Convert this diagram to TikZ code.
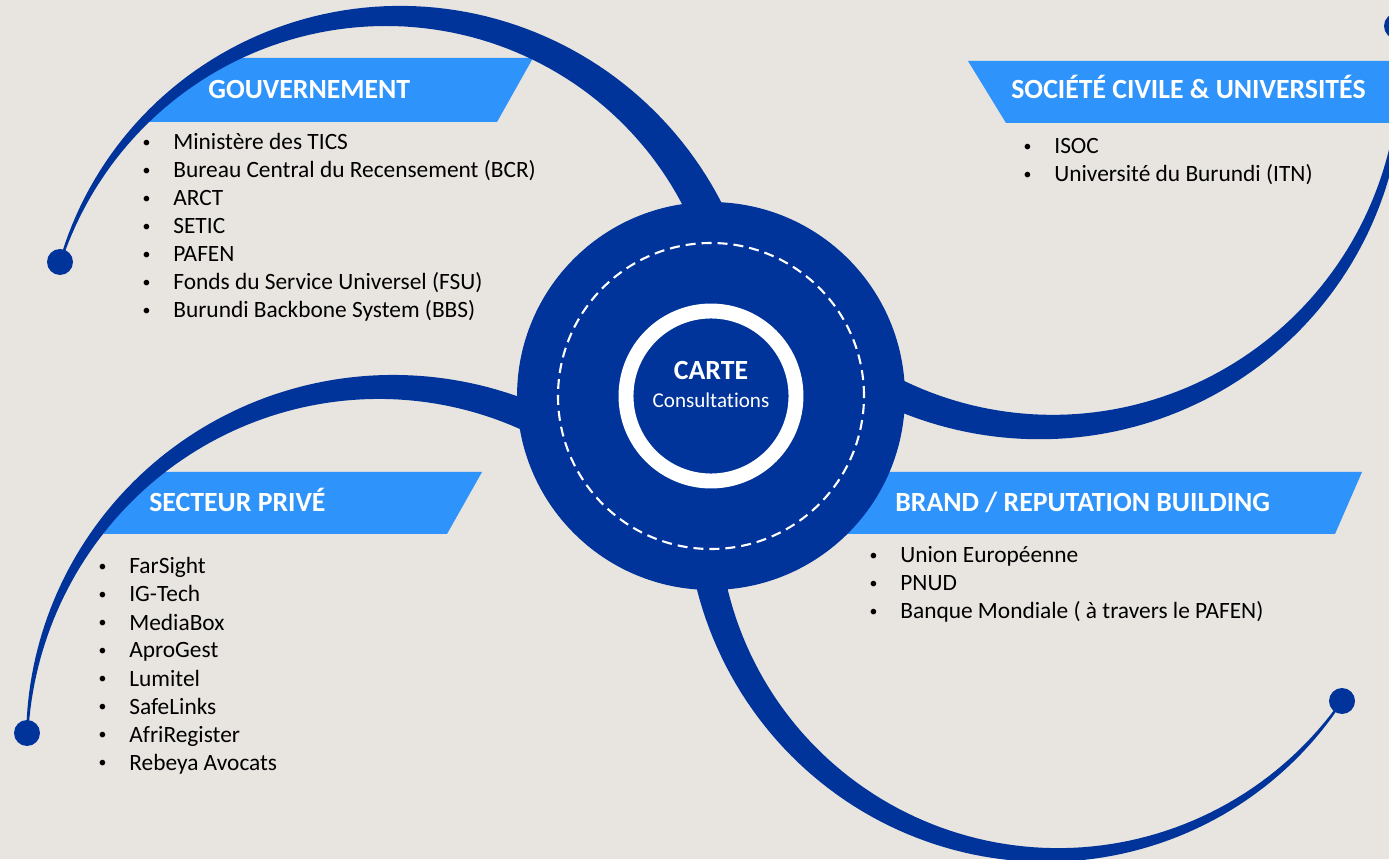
\documentclass[tikz,border=0pt]{standalone}
\usepackage{fontspec}
\setmainfont{Carlito}[RawFeature={-liga}]
\definecolor{navy}{HTML}{00349A}
\definecolor{bandblue}{HTML}{2E93FA}
\definecolor{paper}{HTML}{E8E4E0}
\newcommand{\taperarc}[7]{%
	\fill[navy] plot[domain=#4:#5, samples=90, variable=\t]
		({#1+(#3+0.5*(#6+(#7-#6)*(\t-(#4))/((#5)-(#4))))*cos(\t)},
		 {#2+(#3+0.5*(#6+(#7-#6)*(\t-(#4))/((#5)-(#4))))*sin(\t)})
		-- plot[domain=#5:#4, samples=90, variable=\t]
		({#1+(#3-0.5*(#6+(#7-#6)*(\t-(#4))/((#5)-(#4))))*cos(\t)},
		 {#2+(#3-0.5*(#6+(#7-#6)*(\t-(#4))/((#5)-(#4))))*sin(\t)}) -- cycle;}
\newcommand{\bul}{\llap{\raisebox{1.3pt}{\fontsize{9}{9}\selectfont\textbullet}\hspace{13pt}}}

\begin{document}
\begin{tikzpicture}[x=0.02cm, y=0.02cm,
	dot/.style={circle, fill=navy, inner sep=0pt, minimum size=0.52cm},
	band/.style={fill=bandblue},
	bantext/.style={anchor=base west, inner sep=0pt, text=white, font=\fontsize{15.8}{19}\selectfont\bfseries},
	item/.style={anchor=base west, inner sep=0pt, font=\fontsize{13.3}{16}\selectfont}]
		\fill[paper] (0,0) rectangle (1389,859);
		\useasboundingbox (0,0) rectangle (1389,859);
		\clip (0,0) rectangle (1389,859);
		\begin{scope}
			\clip (393,495) circle (348);
			\fill[band] (100,801) -- (533,801) -- (497,737) -- (100,737) -- cycle;
		\end{scope}
		\fill[band] (968,798) -- (1389,798) -- (1389,736) -- (1006,736) -- cycle;
		\begin{scope}
			\clip (386,113) circle (359);
			\fill[band] (50,387) -- (482,387) -- (447,325) -- (50,325) -- cycle;
		\end{scope}
		\fill[band] (820,387) -- (1362,387) -- (1335,325) -- (820,325) -- cycle;
		\taperarc{393}{495}{348}{163}{18}{2}{38}
		\taperarc{386}{113}{359}{178}{58}{2}{32}
		\taperarc{1046}{787}{355}{367.5}{237}{2}{32}
		\taperarc{1052}{354}{350}{326}{184}{2}{32}
		\node[dot] (govdot) at (60,597) {};
		\node[dot] (privdot) at (27,126) {};
		\node[dot] (socdot) at (1397,833) {};
		\node[dot] (branddot) at (1342,158) {};
		\node[circle, fill=navy, inner sep=0pt, minimum size=7.76cm] (hub) at (711,463) {};
		\draw[white, line width=1.2pt, dash pattern=on 5.7pt off 3.4pt] (hub.center) circle (153);
		\draw[white, line width=8.5pt] (hub.center) circle (85);
		\node[anchor=base, text=white, font=\fontsize{15.8}{19}\selectfont\bfseries] (carte) at (711,479) {CARTE};
		\node[anchor=base, text=white, font=\fontsize{12}{14}\selectfont] (consult) at (711,451) {Consultations};
		\node[bantext] (govtitle) at (208,760) {GOUVERNEMENT};
		\node[bantext] (soctitle) at (1011,760) {SOCIÉTÉ CIVILE \& UNIVERSITÉS};
		\node[bantext] (privtitle) at (149,347) {SECTEUR PRIVÉ};
		\node[bantext] (brandtitle) at (895,347) {BRAND / REPUTATION BUILDING};
		\foreach \txt [count=\i] in {Ministère des TICS, Bureau Central du Recensement (BCR), ARCT, SETIC, PAFEN, Fonds du Service Universel (FSU), Burundi Backbone System (BBS)}
			\node[item] (gov\i) at (173,737-28*\i) {\bul\txt};
		\foreach \txt [count=\i] in {ISOC, Université du Burundi (ITN)}
			\node[item] (soc\i) at (1054,733-28*\i) {\bul\txt};
		\foreach \txt [count=\i] in {FarSight, IG-Tech, MediaBox, AproGest, Lumitel, SafeLinks, AfriRegister, Rebeya Avocats}
			\node[item] (priv\i) at (129,313-28*\i) {\bul\txt};
		\foreach \txt [count=\i] in {Union Européenne, PNUD, Banque Mondiale ( à travers le PAFEN)}
			\node[item] (brand\i) at (900,324-28*\i) {\bul\txt};
	\end{tikzpicture}
\end{document}
